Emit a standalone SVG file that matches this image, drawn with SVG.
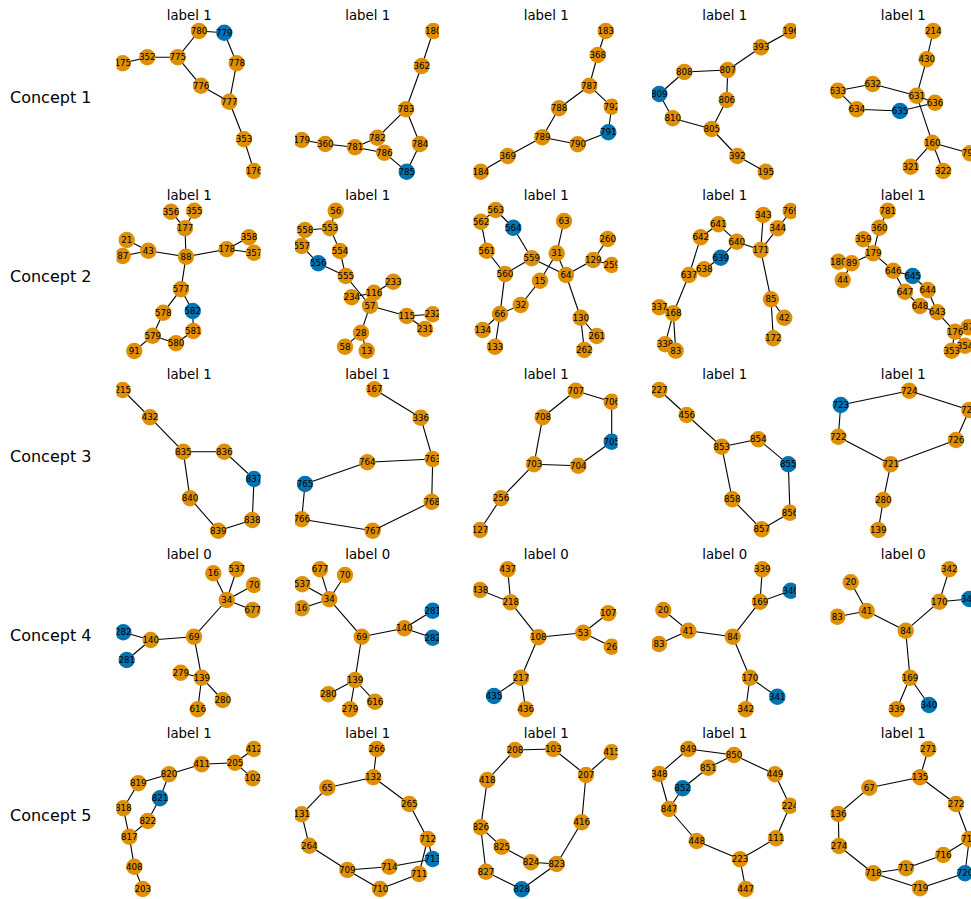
<svg xmlns="http://www.w3.org/2000/svg" width="971" height="899" viewBox="0 0 971 899">
<style>
.o{fill:#DE8F05}
.b{fill:#0173B2}
.nd text{font-family:"DejaVu Sans",sans-serif;font-size:8.7px;fill:#000;text-anchor:middle;dominant-baseline:central}
.ed path{stroke:#000;stroke-width:1.1;fill:none}
.ttl{font-family:"DejaVu Sans",sans-serif;font-size:13.3px;fill:#000;text-anchor:middle}
.row{font-family:"DejaVu Sans",sans-serif;font-size:16px;fill:#000}
</style>
<defs>
<clipPath id="c0"><rect x="116.5" y="0" width="144" height="899"/></clipPath>
<clipPath id="c1"><rect x="295" y="0" width="144" height="899"/></clipPath>
<clipPath id="c2"><rect x="473.5" y="0" width="144" height="899"/></clipPath>
<clipPath id="c3"><rect x="652" y="0" width="144" height="899"/></clipPath>
<clipPath id="c4"><rect x="830.5" y="0" width="144" height="899"/></clipPath>
</defs>
<rect width="971" height="899" fill="#fff"/>
<g id="row-labels">
<text class="row" x="10" y="102.5">Concept 1</text>
<text class="row" x="10" y="282">Concept 2</text>
<text class="row" x="10" y="461.5">Concept 3</text>
<text class="row" x="10" y="641">Concept 4</text>
<text class="row" x="10" y="820.5">Concept 5</text>
</g>
<g id="titles">
<text class="ttl" x="189.2" y="20">label 1</text><text class="ttl" x="367.7" y="20">label 1</text><text class="ttl" x="546.2" y="20">label 1</text><text class="ttl" x="724.7" y="20">label 1</text><text class="ttl" x="903.2" y="20">label 1</text>
<text class="ttl" x="189.2" y="199.5">label 1</text><text class="ttl" x="367.7" y="199.5">label 1</text><text class="ttl" x="546.2" y="199.5">label 1</text><text class="ttl" x="724.7" y="199.5">label 1</text><text class="ttl" x="903.2" y="199.5">label 1</text>
<text class="ttl" x="189.2" y="379">label 1</text><text class="ttl" x="367.7" y="379">label 1</text><text class="ttl" x="546.2" y="379">label 1</text><text class="ttl" x="724.7" y="379">label 1</text><text class="ttl" x="903.2" y="379">label 1</text>
<text class="ttl" x="189.2" y="558.5">label 0</text><text class="ttl" x="367.7" y="558.5">label 0</text><text class="ttl" x="546.2" y="558.5">label 0</text><text class="ttl" x="724.7" y="558.5">label 0</text><text class="ttl" x="903.2" y="558.5">label 0</text>
<text class="ttl" x="189.2" y="738">label 1</text><text class="ttl" x="367.7" y="738">label 1</text><text class="ttl" x="546.2" y="738">label 1</text><text class="ttl" x="724.7" y="738">label 1</text><text class="ttl" x="903.2" y="738">label 1</text>
</g>

<!-- Row 1 -->
<g id="g11" clip-path="url(#c0)">
<g class="ed" id="g11-edges">
<path d="M199 31L224.3 32.7"/><path d="M199 31L177.7 57.3"/><path d="M177.7 57.3L147.3 57.3"/><path d="M147.3 57.3L122.7 63.3"/><path d="M224.3 32.7L236.7 63.3"/><path d="M177.7 57.3L201 85.7"/><path d="M201 85.7L229.3 101.7"/><path d="M236.7 63.3L229.3 101.7"/><path d="M229.3 101.7L244 139.3"/><path d="M244 139.3L254 171"/>
</g>
<g class="nd">
<g id="g11-780"><circle class="o" cx="199" cy="31" r="8.2"/><text x="199" y="31">780</text></g>
<g id="g11-779"><circle class="b" cx="224.3" cy="32.7" r="8.2"/><text x="224.3" y="32.7">779</text></g>
<g id="g11-775"><circle class="o" cx="177.7" cy="57.3" r="8.2"/><text x="177.7" y="57.3">775</text></g>
<g id="g11-352"><circle class="o" cx="147.3" cy="57.3" r="8.2"/><text x="147.3" y="57.3">352</text></g>
<g id="g11-175"><circle class="o" cx="122.7" cy="63.3" r="8.2"/><text x="122.7" y="63.3">175</text></g>
<g id="g11-778"><circle class="o" cx="236.7" cy="63.3" r="8.2"/><text x="236.7" y="63.3">778</text></g>
<g id="g11-776"><circle class="o" cx="201" cy="85.7" r="8.2"/><text x="201" y="85.7">776</text></g>
<g id="g11-777"><circle class="o" cx="229.3" cy="101.7" r="8.2"/><text x="229.3" y="101.7">777</text></g>
<g id="g11-353"><circle class="o" cx="244" cy="139.3" r="8.2"/><text x="244" y="139.3">353</text></g>
<g id="g11-176"><circle class="o" cx="254" cy="171" r="8.2"/><text x="254" y="171">176</text></g>
</g>
</g>

<g id="g12" clip-path="url(#c1)">
<g class="ed" id="g12-edges">
<path d="M433.3 31L421.7 66"/><path d="M421.7 66L406 109.3"/><path d="M406 109.3L377.3 137.7"/><path d="M406 109.3L420 144"/><path d="M377.3 137.7L355 147.3"/><path d="M301.7 140L325.3 144"/><path d="M325.3 144L355 147.3"/><path d="M355 147.3L384.3 152.7"/><path d="M384.3 152.7L406.7 171.7"/><path d="M420 144L406.7 171.7"/>
</g>
<g class="nd">
<g id="g12-180"><circle class="o" cx="433.3" cy="31" r="8.2"/><text x="433.3" y="31">180</text></g>
<g id="g12-362"><circle class="o" cx="421.7" cy="66" r="8.2"/><text x="421.7" y="66">362</text></g>
<g id="g12-783"><circle class="o" cx="406" cy="109.3" r="8.2"/><text x="406" y="109.3">783</text></g>
<g id="g12-782"><circle class="o" cx="377.3" cy="137.7" r="8.2"/><text x="377.3" y="137.7">782</text></g>
<g id="g12-784"><circle class="o" cx="420" cy="144" r="8.2"/><text x="420" y="144">784</text></g>
<g id="g12-179"><circle class="o" cx="301.7" cy="140" r="8.2"/><text x="301.7" y="140">179</text></g>
<g id="g12-360"><circle class="o" cx="325.3" cy="144" r="8.2"/><text x="325.3" y="144">360</text></g>
<g id="g12-781"><circle class="o" cx="355" cy="147.3" r="8.2"/><text x="355" y="147.3">781</text></g>
<g id="g12-786"><circle class="o" cx="384.3" cy="152.7" r="8.2"/><text x="384.3" y="152.7">786</text></g>
<g id="g12-785"><circle class="b" cx="406.7" cy="171.7" r="8.2"/><text x="406.7" y="171.7">785</text></g>
</g>
</g>

<g id="g13" clip-path="url(#c2)">
<g class="ed" id="g13-edges">
<path d="M605.7 31L597.7 55"/><path d="M597.7 55L589.3 85.7"/><path d="M589.3 85.7L559 108.3"/><path d="M589.3 85.7L611.7 106.7"/><path d="M611.7 106.7L608.3 132.3"/><path d="M559 108.3L542.3 137.3"/><path d="M542.3 137.3L577.7 144.3"/><path d="M577.7 144.3L608.3 132.3"/><path d="M542.3 137.3L507.7 156"/><path d="M507.7 156L480.7 171.7"/>
</g>
<g class="nd">
<g id="g13-183"><circle class="o" cx="605.7" cy="31" r="8.2"/><text x="605.7" y="31">183</text></g>
<g id="g13-368"><circle class="o" cx="597.7" cy="55" r="8.2"/><text x="597.7" y="55">368</text></g>
<g id="g13-787"><circle class="o" cx="589.3" cy="85.7" r="8.2"/><text x="589.3" y="85.7">787</text></g>
<g id="g13-788"><circle class="o" cx="559" cy="108.3" r="8.2"/><text x="559" y="108.3">788</text></g>
<g id="g13-792"><circle class="o" cx="611.7" cy="106.7" r="8.2"/><text x="611.7" y="106.7">792</text></g>
<g id="g13-791"><circle class="b" cx="608.3" cy="132.3" r="8.2"/><text x="608.3" y="132.3">791</text></g>
<g id="g13-789"><circle class="o" cx="542.3" cy="137.3" r="8.2"/><text x="542.3" y="137.3">789</text></g>
<g id="g13-790"><circle class="o" cx="577.7" cy="144.3" r="8.2"/><text x="577.7" y="144.3">790</text></g>
<g id="g13-369"><circle class="o" cx="507.7" cy="156" r="8.2"/><text x="507.7" y="156">369</text></g>
<g id="g13-184"><circle class="o" cx="480.7" cy="171.7" r="8.2"/><text x="480.7" y="171.7">184</text></g>
</g>
</g>

<g id="g14" clip-path="url(#c3)">
<g class="ed" id="g14-edges">
<path d="M790.7 31L761 47.3"/><path d="M761 47.3L727.7 70"/><path d="M727.7 70L684.3 72"/><path d="M684.3 72L659.3 94"/><path d="M659.3 94L672.7 118.3"/><path d="M672.7 118.3L711.7 129"/><path d="M727.7 70L726.7 100"/><path d="M726.7 100L711.7 129"/><path d="M711.7 129L737.3 156"/><path d="M737.3 156L765.7 171.7"/>
</g>
<g class="nd">
<g id="g14-196"><circle class="o" cx="790.7" cy="31" r="8.2"/><text x="790.7" y="31">196</text></g>
<g id="g14-393"><circle class="o" cx="761" cy="47.3" r="8.2"/><text x="761" y="47.3">393</text></g>
<g id="g14-807"><circle class="o" cx="727.7" cy="70" r="8.2"/><text x="727.7" y="70">807</text></g>
<g id="g14-808"><circle class="o" cx="684.3" cy="72" r="8.2"/><text x="684.3" y="72">808</text></g>
<g id="g14-809"><circle class="b" cx="659.3" cy="94" r="8.2"/><text x="659.3" y="94">809</text></g>
<g id="g14-806"><circle class="o" cx="726.7" cy="100" r="8.2"/><text x="726.7" y="100">806</text></g>
<g id="g14-810"><circle class="o" cx="672.7" cy="118.3" r="8.2"/><text x="672.7" y="118.3">810</text></g>
<g id="g14-805"><circle class="o" cx="711.7" cy="129" r="8.2"/><text x="711.7" y="129">805</text></g>
<g id="g14-392"><circle class="o" cx="737.3" cy="156" r="8.2"/><text x="737.3" y="156">392</text></g>
<g id="g14-195"><circle class="o" cx="765.7" cy="171.7" r="8.2"/><text x="765.7" y="171.7">195</text></g>
</g>
</g>

<g id="g15" clip-path="url(#c4)">
<g class="ed" id="g15-edges">
<path d="M933.3 31L926.7 59.3"/><path d="M926.7 59.3L916.7 95.7"/><path d="M872.7 84L837.7 90.7"/><path d="M872.7 84L916.7 95.7"/><path d="M837.7 90.7L856.7 109.3"/><path d="M856.7 109.3L900 111"/><path d="M900 111L935 102.7"/><path d="M916.7 95.7L935 102.7"/><path d="M916.7 95.7L932.3 142.7"/><path d="M932.3 142.7L910.7 166.7"/><path d="M932.3 142.7L943.3 171"/><path d="M932.3 142.7L970 153.3"/>
</g>
<g class="nd">
<g id="g15-214"><circle class="o" cx="933.3" cy="31" r="8.2"/><text x="933.3" y="31">214</text></g>
<g id="g15-430"><circle class="o" cx="926.7" cy="59.3" r="8.2"/><text x="926.7" y="59.3">430</text></g>
<g id="g15-632"><circle class="o" cx="872.7" cy="84" r="8.2"/><text x="872.7" y="84">632</text></g>
<g id="g15-633"><circle class="o" cx="837.7" cy="90.7" r="8.2"/><text x="837.7" y="90.7">633</text></g>
<g id="g15-631"><circle class="o" cx="916.7" cy="95.7" r="8.2"/><text x="916.7" y="95.7">631</text></g>
<g id="g15-636"><circle class="o" cx="935" cy="102.7" r="8.2"/><text x="935" y="102.7">636</text></g>
<g id="g15-634"><circle class="o" cx="856.7" cy="109.3" r="8.2"/><text x="856.7" y="109.3">634</text></g>
<g id="g15-635"><circle class="b" cx="900" cy="111" r="8.2"/><text x="900" y="111">635</text></g>
<g id="g15-160"><circle class="o" cx="932.3" cy="142.7" r="8.2"/><text x="932.3" y="142.7">160</text></g>
<g id="g15-321"><circle class="o" cx="910.7" cy="166.7" r="8.2"/><text x="910.7" y="166.7">321</text></g>
<g id="g15-322"><circle class="o" cx="943.3" cy="171" r="8.2"/><text x="943.3" y="171">322</text></g>
<g id="g15-797"><circle class="o" cx="970" cy="153.3" r="8.2"/><text x="970" y="153.3">797</text></g>
</g>
</g>

<!-- Row 2 -->
<g id="g21" clip-path="url(#c0)">
<g class="ed" id="g21-edges">
<path d="M171 211.7L185 228.3"/><path d="M194.3 210.7L185 228.3"/><path d="M185 228.3L186 256.7"/><path d="M126.7 240L148.3 250.7"/><path d="M122.7 256L148.3 250.7"/><path d="M148.3 250.7L186 256.7"/><path d="M186 256.7L226.7 249.3"/><path d="M226.7 249.3L249 237.3"/><path d="M226.7 249.3L254 252.7"/><path d="M186 256.7L181 289.3"/><path d="M181 289.3L163.3 312.7"/><path d="M181 289.3L192.7 311"/><path d="M192.7 311L193.3 331"/><path d="M193.3 331L176 343.3"/><path d="M163.3 312.7L152.7 335.7"/><path d="M152.7 335.7L176 343.3"/><path d="M152.7 335.7L134.3 351"/>
</g>
<g class="nd">
<g id="g21-356"><circle class="o" cx="171" cy="211.7" r="8.2"/><text x="171" y="211.7">356</text></g>
<g id="g21-355"><circle class="o" cx="194.3" cy="210.7" r="8.2"/><text x="194.3" y="210.7">355</text></g>
<g id="g21-177"><circle class="o" cx="185" cy="228.3" r="8.2"/><text x="185" y="228.3">177</text></g>
<g id="g21-21"><circle class="o" cx="126.7" cy="240" r="8.2"/><text x="126.7" y="240">21</text></g>
<g id="g21-358"><circle class="o" cx="249" cy="237.3" r="8.2"/><text x="249" y="237.3">358</text></g>
<g id="g21-43"><circle class="o" cx="148.3" cy="250.7" r="8.2"/><text x="148.3" y="250.7">43</text></g>
<g id="g21-178"><circle class="o" cx="226.7" cy="249.3" r="8.2"/><text x="226.7" y="249.3">178</text></g>
<g id="g21-357"><circle class="o" cx="254" cy="252.7" r="8.2"/><text x="254" y="252.7">357</text></g>
<g id="g21-88"><circle class="o" cx="186" cy="256.7" r="8.2"/><text x="186" y="256.7">88</text></g>
<g id="g21-87"><circle class="o" cx="122.7" cy="256" r="8.2"/><text x="122.7" y="256">87</text></g>
<g id="g21-577"><circle class="o" cx="181" cy="289.3" r="8.2"/><text x="181" y="289.3">577</text></g>
<g id="g21-582"><circle class="b" cx="192.7" cy="311" r="8.2"/><text x="192.7" y="311">582</text></g>
<g id="g21-578"><circle class="o" cx="163.3" cy="312.7" r="8.2"/><text x="163.3" y="312.7">578</text></g>
<g id="g21-581"><circle class="o" cx="193.3" cy="331" r="8.2"/><text x="193.3" y="331">581</text></g>
<g id="g21-579"><circle class="o" cx="152.7" cy="335.7" r="8.2"/><text x="152.7" y="335.7">579</text></g>
<g id="g21-580"><circle class="o" cx="176" cy="343.3" r="8.2"/><text x="176" y="343.3">580</text></g>
<g id="g21-91"><circle class="o" cx="134.3" cy="351" r="8.2"/><text x="134.3" y="351">91</text></g>
</g>
</g>

<g id="g22" clip-path="url(#c1)">
<g class="ed" id="g22-edges">
<path d="M335.7 210.7L330 228.3"/><path d="M305 230L330 228.3"/><path d="M305 230L301.7 246"/><path d="M330 228.3L340 251"/><path d="M301.7 246L318.3 263.3"/><path d="M318.3 263.3L345.7 276"/><path d="M340 251L345.7 276"/><path d="M345.7 276L370 305.7"/><path d="M374 292.7L393.3 281.7"/><path d="M351.7 297.3L374 292.7"/><path d="M374 292.7L370 305.7"/><path d="M370 305.7L406.7 316"/><path d="M406.7 316L432.7 314.3"/><path d="M406.7 316L425 329"/><path d="M370 305.7L361 332.7"/><path d="M361 332.7L345 346.7"/><path d="M361 332.7L366.7 350.7"/>
</g>
<g class="nd">
<g id="g22-56"><circle class="o" cx="335.7" cy="210.7" r="8.2"/><text x="335.7" y="210.7">56</text></g>
<g id="g22-558"><circle class="o" cx="305" cy="230" r="8.2"/><text x="305" y="230">558</text></g>
<g id="g22-553"><circle class="o" cx="330" cy="228.3" r="8.2"/><text x="330" y="228.3">553</text></g>
<g id="g22-557"><circle class="o" cx="301.7" cy="246" r="8.2"/><text x="301.7" y="246">557</text></g>
<g id="g22-554"><circle class="o" cx="340" cy="251" r="8.2"/><text x="340" y="251">554</text></g>
<g id="g22-556"><circle class="b" cx="318.3" cy="263.3" r="8.2"/><text x="318.3" y="263.3">556</text></g>
<g id="g22-555"><circle class="o" cx="345.7" cy="276" r="8.2"/><text x="345.7" y="276">555</text></g>
<g id="g22-233"><circle class="o" cx="393.3" cy="281.7" r="8.2"/><text x="393.3" y="281.7">233</text></g>
<g id="g22-234"><circle class="o" cx="351.7" cy="297.3" r="8.2"/><text x="351.7" y="297.3">234</text></g>
<g id="g22-116"><circle class="o" cx="374" cy="292.7" r="8.2"/><text x="374" y="292.7">116</text></g>
<g id="g22-57"><circle class="o" cx="370" cy="305.7" r="8.2"/><text x="370" y="305.7">57</text></g>
<g id="g22-115"><circle class="o" cx="406.7" cy="316" r="8.2"/><text x="406.7" y="316">115</text></g>
<g id="g22-232"><circle class="o" cx="432.7" cy="314.3" r="8.2"/><text x="432.7" y="314.3">232</text></g>
<g id="g22-231"><circle class="o" cx="425" cy="329" r="8.2"/><text x="425" y="329">231</text></g>
<g id="g22-28"><circle class="o" cx="361" cy="332.7" r="8.2"/><text x="361" y="332.7">28</text></g>
<g id="g22-58"><circle class="o" cx="345" cy="346.7" r="8.2"/><text x="345" y="346.7">58</text></g>
<g id="g22-13"><circle class="o" cx="366.7" cy="350.7" r="8.2"/><text x="366.7" y="350.7">13</text></g>
</g>
</g>

<g id="g23" clip-path="url(#c2)">
<g class="ed" id="g23-edges">
<path d="M495.7 210L481 221.7"/><path d="M495.7 210L513.3 227.7"/><path d="M481 221.7L486.7 250.7"/><path d="M486.7 250.7L505 274"/><path d="M513.3 227.7L531.7 258.3"/><path d="M531.7 258.3L505 274"/><path d="M531.7 258.3L566 275"/><path d="M564 221L556.7 253.3"/><path d="M556.7 253.3L566 275"/><path d="M556.7 253.3L540 280.7"/><path d="M540 280.7L520.7 305"/><path d="M520.7 305L500 314"/><path d="M505 274L500 314"/><path d="M500 314L482.7 330"/><path d="M500 314L495 346.7"/><path d="M566 275L593.3 260"/><path d="M593.3 260L607.7 239"/><path d="M593.3 260L611.7 265"/><path d="M566 275L580.7 317.7"/><path d="M580.7 317.7L596.7 336"/><path d="M580.7 317.7L584.3 350"/>
</g>
<g class="nd">
<g id="g23-563"><circle class="o" cx="495.7" cy="210" r="8.2"/><text x="495.7" y="210">563</text></g>
<g id="g23-562"><circle class="o" cx="481" cy="221.7" r="8.2"/><text x="481" y="221.7">562</text></g>
<g id="g23-564"><circle class="b" cx="513.3" cy="227.7" r="8.2"/><text x="513.3" y="227.7">564</text></g>
<g id="g23-63"><circle class="o" cx="564" cy="221" r="8.2"/><text x="564" y="221">63</text></g>
<g id="g23-260"><circle class="o" cx="607.7" cy="239" r="8.2"/><text x="607.7" y="239">260</text></g>
<g id="g23-561"><circle class="o" cx="486.7" cy="250.7" r="8.2"/><text x="486.7" y="250.7">561</text></g>
<g id="g23-559"><circle class="o" cx="531.7" cy="258.3" r="8.2"/><text x="531.7" y="258.3">559</text></g>
<g id="g23-31"><circle class="o" cx="556.7" cy="253.3" r="8.2"/><text x="556.7" y="253.3">31</text></g>
<g id="g23-129"><circle class="o" cx="593.3" cy="260" r="8.2"/><text x="593.3" y="260">129</text></g>
<g id="g23-259"><circle class="o" cx="611.7" cy="265" r="8.2"/><text x="611.7" y="265">259</text></g>
<g id="g23-560"><circle class="o" cx="505" cy="274" r="8.2"/><text x="505" y="274">560</text></g>
<g id="g23-64"><circle class="o" cx="566" cy="275" r="8.2"/><text x="566" y="275">64</text></g>
<g id="g23-15"><circle class="o" cx="540" cy="280.7" r="8.2"/><text x="540" y="280.7">15</text></g>
<g id="g23-32"><circle class="o" cx="520.7" cy="305" r="8.2"/><text x="520.7" y="305">32</text></g>
<g id="g23-66"><circle class="o" cx="500" cy="314" r="8.2"/><text x="500" y="314">66</text></g>
<g id="g23-130"><circle class="o" cx="580.7" cy="317.7" r="8.2"/><text x="580.7" y="317.7">130</text></g>
<g id="g23-134"><circle class="o" cx="482.7" cy="330" r="8.2"/><text x="482.7" y="330">134</text></g>
<g id="g23-261"><circle class="o" cx="596.7" cy="336" r="8.2"/><text x="596.7" y="336">261</text></g>
<g id="g23-133"><circle class="o" cx="495" cy="346.7" r="8.2"/><text x="495" y="346.7">133</text></g>
<g id="g23-262"><circle class="o" cx="584.3" cy="350" r="8.2"/><text x="584.3" y="350">262</text></g>
</g>
</g>

<g id="g24" clip-path="url(#c3)">
<g class="ed" id="g24-edges">
<path d="M718.3 224.3L700.7 237.3"/><path d="M718.3 224.3L736.7 241.7"/><path d="M736.7 241.7L720.7 257.7"/><path d="M720.7 257.7L704.3 269.3"/><path d="M736.7 241.7L760.7 250"/><path d="M760.7 250L763.3 215"/><path d="M760.7 250L777.7 228.3"/><path d="M777.7 228.3L790.7 211"/><path d="M700.7 237.3L689 275"/><path d="M689 275L673.3 313.3"/><path d="M673.3 313.3L659.3 307.3"/><path d="M673.3 313.3L665 344.3"/><path d="M673.3 313.3L675.7 350.7"/><path d="M760.7 250L771 299.3"/><path d="M771 299.3L784.3 317.7"/><path d="M771 299.3L773.3 338.3"/>
</g>
<g class="nd">
<g id="g24-641"><circle class="o" cx="718.3" cy="224.3" r="8.2"/><text x="718.3" y="224.3">641</text></g>
<g id="g24-343"><circle class="o" cx="763.3" cy="215" r="8.2"/><text x="763.3" y="215">343</text></g>
<g id="g24-769"><circle class="o" cx="790.7" cy="211" r="8.2"/><text x="790.7" y="211">769</text></g>
<g id="g24-642"><circle class="o" cx="700.7" cy="237.3" r="8.2"/><text x="700.7" y="237.3">642</text></g>
<g id="g24-344"><circle class="o" cx="777.7" cy="228.3" r="8.2"/><text x="777.7" y="228.3">344</text></g>
<g id="g24-640"><circle class="o" cx="736.7" cy="241.7" r="8.2"/><text x="736.7" y="241.7">640</text></g>
<g id="g24-171"><circle class="o" cx="760.7" cy="250" r="8.2"/><text x="760.7" y="250">171</text></g>
<g id="g24-639"><circle class="b" cx="720.7" cy="257.7" r="8.2"/><text x="720.7" y="257.7">639</text></g>
<g id="g24-637"><circle class="o" cx="689" cy="275" r="8.2"/><text x="689" y="275">637</text></g>
<g id="g24-638"><circle class="o" cx="704.3" cy="269.3" r="8.2"/><text x="704.3" y="269.3">638</text></g>
<g id="g24-85"><circle class="o" cx="771" cy="299.3" r="8.2"/><text x="771" y="299.3">85</text></g>
<g id="g24-42"><circle class="o" cx="784.3" cy="317.7" r="8.2"/><text x="784.3" y="317.7">42</text></g>
<g id="g24-337"><circle class="o" cx="659.3" cy="307.3" r="8.2"/><text x="659.3" y="307.3">337</text></g>
<g id="g24-168"><circle class="o" cx="673.3" cy="313.3" r="8.2"/><text x="673.3" y="313.3">168</text></g>
<g id="g24-172"><circle class="o" cx="773.3" cy="338.3" r="8.2"/><text x="773.3" y="338.3">172</text></g>
<g id="g24-338"><circle class="o" cx="665" cy="344.3" r="8.2"/><text x="665" y="344.3">338</text></g>
<g id="g24-83"><circle class="o" cx="675.7" cy="350.7" r="8.2"/><text x="675.7" y="350.7">83</text></g>
</g>
</g>

<g id="g25" clip-path="url(#c4)">
<g class="ed" id="g25-edges">
<path d="M887.7 210.7L879.3 227.7"/><path d="M879.3 227.7L873.3 253.3"/><path d="M863.3 239.3L873.3 253.3"/><path d="M873.3 253.3L851.7 263.3"/><path d="M838.3 261.7L851.7 263.3"/><path d="M851.7 263.3L842.7 280"/><path d="M873.3 253.3L893.3 270.7"/><path d="M893.3 270.7L912.7 276"/><path d="M893.3 270.7L905 291.7"/><path d="M912.7 276L927.7 290"/><path d="M905 291.7L920 306"/><path d="M927.7 290L937.3 312.3"/><path d="M920 306L937.3 312.3"/><path d="M937.3 312.3L955 331.7"/><path d="M955 331.7L968.3 327.3"/><path d="M955 331.7L951.7 350.7"/><path d="M955 331.7L965 345.7"/>
</g>
<g class="nd">
<g id="g25-781"><circle class="o" cx="887.7" cy="210.7" r="8.2"/><text x="887.7" y="210.7">781</text></g>
<g id="g25-360"><circle class="o" cx="879.3" cy="227.7" r="8.2"/><text x="879.3" y="227.7">360</text></g>
<g id="g25-359"><circle class="o" cx="863.3" cy="239.3" r="8.2"/><text x="863.3" y="239.3">359</text></g>
<g id="g25-179"><circle class="o" cx="873.3" cy="253.3" r="8.2"/><text x="873.3" y="253.3">179</text></g>
<g id="g25-180"><circle class="o" cx="838.3" cy="261.7" r="8.2"/><text x="838.3" y="261.7">180</text></g>
<g id="g25-89"><circle class="o" cx="851.7" cy="263.3" r="8.2"/><text x="851.7" y="263.3">89</text></g>
<g id="g25-646"><circle class="o" cx="893.3" cy="270.7" r="8.2"/><text x="893.3" y="270.7">646</text></g>
<g id="g25-645"><circle class="b" cx="912.7" cy="276" r="8.2"/><text x="912.7" y="276">645</text></g>
<g id="g25-44"><circle class="o" cx="842.7" cy="280" r="8.2"/><text x="842.7" y="280">44</text></g>
<g id="g25-644"><circle class="o" cx="927.7" cy="290" r="8.2"/><text x="927.7" y="290">644</text></g>
<g id="g25-647"><circle class="o" cx="905" cy="291.7" r="8.2"/><text x="905" y="291.7">647</text></g>
<g id="g25-648"><circle class="o" cx="920" cy="306" r="8.2"/><text x="920" y="306">648</text></g>
<g id="g25-643"><circle class="o" cx="937.3" cy="312.3" r="8.2"/><text x="937.3" y="312.3">643</text></g>
<g id="g25-87"><circle class="o" cx="968.3" cy="327.3" r="8.2"/><text x="968.3" y="327.3">87</text></g>
<g id="g25-176"><circle class="o" cx="955" cy="331.7" r="8.2"/><text x="955" y="331.7">176</text></g>
<g id="g25-354"><circle class="o" cx="965" cy="345.7" r="8.2"/><text x="965" y="345.7">354</text></g>
<g id="g25-353"><circle class="o" cx="951.7" cy="350.7" r="8.2"/><text x="951.7" y="350.7">353</text></g>
</g>
</g>

<!-- Row 3 -->
<g id="g31" clip-path="url(#c0)">
<g class="ed" id="g31-edges">
<path d="M122.7 390L150 417.3"/><path d="M150 417.3L183.3 451.7"/><path d="M183.3 451.7L224.3 451.7"/><path d="M224.3 451.7L254 479"/><path d="M254 479L252.3 520"/><path d="M252.3 520L218.3 530.7"/><path d="M218.3 530.7L190 498.3"/><path d="M190 498.3L183.3 451.7"/>
</g>
<g class="nd">
<g id="g31-215"><circle class="o" cx="122.7" cy="390" r="8.2"/><text x="122.7" y="390">215</text></g>
<g id="g31-432"><circle class="o" cx="150" cy="417.3" r="8.2"/><text x="150" y="417.3">432</text></g>
<g id="g31-835"><circle class="o" cx="183.3" cy="451.7" r="8.2"/><text x="183.3" y="451.7">835</text></g>
<g id="g31-836"><circle class="o" cx="224.3" cy="451.7" r="8.2"/><text x="224.3" y="451.7">836</text></g>
<g id="g31-837"><circle class="b" cx="254" cy="479" r="8.2"/><text x="254" y="479">837</text></g>
<g id="g31-840"><circle class="o" cx="190" cy="498.3" r="8.2"/><text x="190" y="498.3">840</text></g>
<g id="g31-838"><circle class="o" cx="252.3" cy="520" r="8.2"/><text x="252.3" y="520">838</text></g>
<g id="g31-839"><circle class="o" cx="218.3" cy="530.7" r="8.2"/><text x="218.3" y="530.7">839</text></g>
</g>
</g>

<g id="g32" clip-path="url(#c1)">
<g class="ed" id="g32-edges">
<path d="M374.3 389.3L420.7 417.7"/><path d="M420.7 417.7L432.7 459"/><path d="M432.7 459L367.3 462.3"/><path d="M367.3 462.3L305 484"/><path d="M305 484L301.7 519.3"/><path d="M301.7 519.3L372.7 530.7"/><path d="M372.7 530.7L431.7 501.7"/><path d="M431.7 501.7L432.7 459"/>
</g>
<g class="nd">
<g id="g32-167"><circle class="o" cx="374.3" cy="389.3" r="8.2"/><text x="374.3" y="389.3">167</text></g>
<g id="g32-336"><circle class="o" cx="420.7" cy="417.7" r="8.2"/><text x="420.7" y="417.7">336</text></g>
<g id="g32-763"><circle class="o" cx="432.7" cy="459" r="8.2"/><text x="432.7" y="459">763</text></g>
<g id="g32-764"><circle class="o" cx="367.3" cy="462.3" r="8.2"/><text x="367.3" y="462.3">764</text></g>
<g id="g32-765"><circle class="b" cx="305" cy="484" r="8.2"/><text x="305" y="484">765</text></g>
<g id="g32-768"><circle class="o" cx="431.7" cy="501.7" r="8.2"/><text x="431.7" y="501.7">768</text></g>
<g id="g32-766"><circle class="o" cx="301.7" cy="519.3" r="8.2"/><text x="301.7" y="519.3">766</text></g>
<g id="g32-767"><circle class="o" cx="372.7" cy="530.7" r="8.2"/><text x="372.7" y="530.7">767</text></g>
</g>
</g>

<g id="g33" clip-path="url(#c2)">
<g class="ed" id="g33-edges">
<path d="M575.7 390.7L611.7 401.7"/><path d="M575.7 390.7L542.7 417.3"/><path d="M611.7 401.7L611.7 441.7"/><path d="M542.7 417.3L534 464.3"/><path d="M534 464.3L578.3 465.7"/><path d="M578.3 465.7L611.7 441.7"/><path d="M534 464.3L501 498.3"/><path d="M501 498.3L480 530"/>
</g>
<g class="nd">
<g id="g33-707"><circle class="o" cx="575.7" cy="390.7" r="8.2"/><text x="575.7" y="390.7">707</text></g>
<g id="g33-706"><circle class="o" cx="611.7" cy="401.7" r="8.2"/><text x="611.7" y="401.7">706</text></g>
<g id="g33-708"><circle class="o" cx="542.7" cy="417.3" r="8.2"/><text x="542.7" y="417.3">708</text></g>
<g id="g33-705"><circle class="b" cx="611.7" cy="441.7" r="8.2"/><text x="611.7" y="441.7">705</text></g>
<g id="g33-703"><circle class="o" cx="534" cy="464.3" r="8.2"/><text x="534" y="464.3">703</text></g>
<g id="g33-704"><circle class="o" cx="578.3" cy="465.7" r="8.2"/><text x="578.3" y="465.7">704</text></g>
<g id="g33-256"><circle class="o" cx="501" cy="498.3" r="8.2"/><text x="501" y="498.3">256</text></g>
<g id="g33-127"><circle class="o" cx="480" cy="530" r="8.2"/><text x="480" y="530">127</text></g>
</g>
</g>

<g id="g34" clip-path="url(#c3)">
<g class="ed" id="g34-edges">
<path d="M659.3 390L686.7 415"/><path d="M686.7 415L721.7 446.7"/><path d="M721.7 446.7L758.3 439.3"/><path d="M758.3 439.3L788.3 464.3"/><path d="M788.3 464.3L790 512.7"/><path d="M790 512.7L761.7 529.3"/><path d="M761.7 529.3L732.3 499.3"/><path d="M732.3 499.3L721.7 446.7"/>
</g>
<g class="nd">
<g id="g34-227"><circle class="o" cx="659.3" cy="390" r="8.2"/><text x="659.3" y="390">227</text></g>
<g id="g34-456"><circle class="o" cx="686.7" cy="415" r="8.2"/><text x="686.7" y="415">456</text></g>
<g id="g34-853"><circle class="o" cx="721.7" cy="446.7" r="8.2"/><text x="721.7" y="446.7">853</text></g>
<g id="g34-854"><circle class="o" cx="758.3" cy="439.3" r="8.2"/><text x="758.3" y="439.3">854</text></g>
<g id="g34-855"><circle class="b" cx="788.3" cy="464.3" r="8.2"/><text x="788.3" y="464.3">855</text></g>
<g id="g34-858"><circle class="o" cx="732.3" cy="499.3" r="8.2"/><text x="732.3" y="499.3">858</text></g>
<g id="g34-856"><circle class="o" cx="790" cy="512.7" r="8.2"/><text x="790" y="512.7">856</text></g>
<g id="g34-857"><circle class="o" cx="761.7" cy="529.3" r="8.2"/><text x="761.7" y="529.3">857</text></g>
</g>
</g>

<g id="g35" clip-path="url(#c4)">
<g class="ed" id="g35-edges">
<path d="M909.3 390.7L840.7 405"/><path d="M909.3 390.7L969.3 410"/><path d="M840.7 405L838.3 436.7"/><path d="M969.3 410L956 440"/><path d="M838.3 436.7L890.7 464.3"/><path d="M956 440L890.7 464.3"/><path d="M890.7 464.3L883.3 500"/><path d="M883.3 500L878.3 530"/>
</g>
<g class="nd">
<g id="g35-724"><circle class="o" cx="909.3" cy="390.7" r="8.2"/><text x="909.3" y="390.7">724</text></g>
<g id="g35-723"><circle class="b" cx="840.7" cy="405" r="8.2"/><text x="840.7" y="405">723</text></g>
<g id="g35-725"><circle class="o" cx="969.3" cy="410" r="8.2"/><text x="969.3" y="410">725</text></g>
<g id="g35-722"><circle class="o" cx="838.3" cy="436.7" r="8.2"/><text x="838.3" y="436.7">722</text></g>
<g id="g35-726"><circle class="o" cx="956" cy="440" r="8.2"/><text x="956" y="440">726</text></g>
<g id="g35-721"><circle class="o" cx="890.7" cy="464.3" r="8.2"/><text x="890.7" y="464.3">721</text></g>
<g id="g35-280"><circle class="o" cx="883.3" cy="500" r="8.2"/><text x="883.3" y="500">280</text></g>
<g id="g35-139"><circle class="o" cx="878.3" cy="530" r="8.2"/><text x="878.3" y="530">139</text></g>
</g>
</g>

<!-- Row 4 -->
<g id="g41" clip-path="url(#c0)">
<g class="ed" id="g41-edges">
<path d="M226.7 600L213.3 573.3"/><path d="M226.7 600L236.7 569.3"/><path d="M226.7 600L254 585"/><path d="M226.7 600L252.7 610"/><path d="M226.7 600L194 636.7"/><path d="M194 636.7L150.7 640"/><path d="M150.7 640L123.3 632.3"/><path d="M150.7 640L126.7 660"/><path d="M194 636.7L201.7 677.7"/><path d="M201.7 677.7L180.7 672.7"/><path d="M201.7 677.7L222.7 700"/><path d="M201.7 677.7L197.7 709.3"/>
</g>
<g class="nd">
<g id="g41-16"><circle class="o" cx="213.3" cy="573.3" r="8.2"/><text x="213.3" y="573.3">16</text></g>
<g id="g41-537"><circle class="o" cx="236.7" cy="569.3" r="8.2"/><text x="236.7" y="569.3">537</text></g>
<g id="g41-70"><circle class="o" cx="254" cy="585" r="8.2"/><text x="254" y="585">70</text></g>
<g id="g41-34"><circle class="o" cx="226.7" cy="600" r="8.2"/><text x="226.7" y="600">34</text></g>
<g id="g41-677"><circle class="o" cx="252.7" cy="610" r="8.2"/><text x="252.7" y="610">677</text></g>
<g id="g41-282"><circle class="b" cx="123.3" cy="632.3" r="8.2"/><text x="123.3" y="632.3">282</text></g>
<g id="g41-140"><circle class="o" cx="150.7" cy="640" r="8.2"/><text x="150.7" y="640">140</text></g>
<g id="g41-69"><circle class="o" cx="194" cy="636.7" r="8.2"/><text x="194" y="636.7">69</text></g>
<g id="g41-281"><circle class="b" cx="126.7" cy="660" r="8.2"/><text x="126.7" y="660">281</text></g>
<g id="g41-279"><circle class="o" cx="180.7" cy="672.7" r="8.2"/><text x="180.7" y="672.7">279</text></g>
<g id="g41-139"><circle class="o" cx="201.7" cy="677.7" r="8.2"/><text x="201.7" y="677.7">139</text></g>
<g id="g41-280"><circle class="o" cx="222.7" cy="700" r="8.2"/><text x="222.7" y="700">280</text></g>
<g id="g41-616"><circle class="o" cx="197.7" cy="709.3" r="8.2"/><text x="197.7" y="709.3">616</text></g>
</g>
</g>

<g id="g42" clip-path="url(#c1)">
<g class="ed" id="g42-edges">
<path d="M329.3 599.3L320 569.3"/><path d="M329.3 599.3L345 575"/><path d="M329.3 599.3L302.3 584.3"/><path d="M329.3 599.3L301.7 608.3"/><path d="M329.3 599.3L361.7 636.7"/><path d="M361.7 636.7L404.3 628.3"/><path d="M404.3 628.3L432.7 610.7"/><path d="M404.3 628.3L432.7 637.7"/><path d="M361.7 636.7L355 680"/><path d="M355 680L328.3 694.3"/><path d="M355 680L350 709.3"/><path d="M355 680L375 701.7"/>
</g>
<g class="nd">
<g id="g42-677"><circle class="o" cx="320" cy="569.3" r="8.2"/><text x="320" y="569.3">677</text></g>
<g id="g42-70"><circle class="o" cx="345" cy="575" r="8.2"/><text x="345" y="575">70</text></g>
<g id="g42-537"><circle class="o" cx="302.3" cy="584.3" r="8.2"/><text x="302.3" y="584.3">537</text></g>
<g id="g42-34"><circle class="o" cx="329.3" cy="599.3" r="8.2"/><text x="329.3" y="599.3">34</text></g>
<g id="g42-16"><circle class="o" cx="301.7" cy="608.3" r="8.2"/><text x="301.7" y="608.3">16</text></g>
<g id="g42-281"><circle class="b" cx="432.7" cy="610.7" r="8.2"/><text x="432.7" y="610.7">281</text></g>
<g id="g42-140"><circle class="o" cx="404.3" cy="628.3" r="8.2"/><text x="404.3" y="628.3">140</text></g>
<g id="g42-282"><circle class="b" cx="432.7" cy="637.7" r="8.2"/><text x="432.7" y="637.7">282</text></g>
<g id="g42-69"><circle class="o" cx="361.7" cy="636.7" r="8.2"/><text x="361.7" y="636.7">69</text></g>
<g id="g42-139"><circle class="o" cx="355" cy="680" r="8.2"/><text x="355" y="680">139</text></g>
<g id="g42-280"><circle class="o" cx="328.3" cy="694.3" r="8.2"/><text x="328.3" y="694.3">280</text></g>
<g id="g42-616"><circle class="o" cx="375" cy="701.7" r="8.2"/><text x="375" y="701.7">616</text></g>
<g id="g42-279"><circle class="o" cx="350" cy="709.3" r="8.2"/><text x="350" y="709.3">279</text></g>
</g>
</g>

<g id="g43" clip-path="url(#c2)">
<g class="ed" id="g43-edges">
<path d="M507.7 569.3L510.7 602.3"/><path d="M480 590L510.7 602.3"/><path d="M510.7 602.3L538.3 637.3"/><path d="M538.3 637.3L583.3 632.7"/><path d="M583.3 632.7L608.3 613.3"/><path d="M583.3 632.7L611.7 646.7"/><path d="M538.3 637.3L521 677.7"/><path d="M521 677.7L494 696"/><path d="M521 677.7L525.7 709.3"/>
</g>
<g class="nd">
<g id="g43-437"><circle class="o" cx="507.7" cy="569.3" r="8.2"/><text x="507.7" y="569.3">437</text></g>
<g id="g43-438"><circle class="o" cx="480" cy="590" r="8.2"/><text x="480" y="590">438</text></g>
<g id="g43-218"><circle class="o" cx="510.7" cy="602.3" r="8.2"/><text x="510.7" y="602.3">218</text></g>
<g id="g43-107"><circle class="o" cx="608.3" cy="613.3" r="8.2"/><text x="608.3" y="613.3">107</text></g>
<g id="g43-108"><circle class="o" cx="538.3" cy="637.3" r="8.2"/><text x="538.3" y="637.3">108</text></g>
<g id="g43-53"><circle class="o" cx="583.3" cy="632.7" r="8.2"/><text x="583.3" y="632.7">53</text></g>
<g id="g43-26"><circle class="o" cx="611.7" cy="646.7" r="8.2"/><text x="611.7" y="646.7">26</text></g>
<g id="g43-217"><circle class="o" cx="521" cy="677.7" r="8.2"/><text x="521" y="677.7">217</text></g>
<g id="g43-435"><circle class="b" cx="494" cy="696" r="8.2"/><text x="494" y="696">435</text></g>
<g id="g43-436"><circle class="o" cx="525.7" cy="709.3" r="8.2"/><text x="525.7" y="709.3">436</text></g>
</g>
</g>

<g id="g44" clip-path="url(#c3)">
<g class="ed" id="g44-edges">
<path d="M762.3 569.3L760 601.7"/><path d="M760 601.7L790.7 590.7"/><path d="M760 601.7L732.7 636.7"/><path d="M663.3 610L688.3 630.7"/><path d="M659 644L688.3 630.7"/><path d="M688.3 630.7L732.7 636.7"/><path d="M732.7 636.7L750 677.7"/><path d="M750 677.7L777.3 696.7"/><path d="M750 677.7L745.7 709.3"/>
</g>
<g class="nd">
<g id="g44-339"><circle class="o" cx="762.3" cy="569.3" r="8.2"/><text x="762.3" y="569.3">339</text></g>
<g id="g44-340"><circle class="b" cx="790.7" cy="590.7" r="8.2"/><text x="790.7" y="590.7">340</text></g>
<g id="g44-169"><circle class="o" cx="760" cy="601.7" r="8.2"/><text x="760" y="601.7">169</text></g>
<g id="g44-20"><circle class="o" cx="663.3" cy="610" r="8.2"/><text x="663.3" y="610">20</text></g>
<g id="g44-41"><circle class="o" cx="688.3" cy="630.7" r="8.2"/><text x="688.3" y="630.7">41</text></g>
<g id="g44-84"><circle class="o" cx="732.7" cy="636.7" r="8.2"/><text x="732.7" y="636.7">84</text></g>
<g id="g44-83"><circle class="o" cx="659" cy="644" r="8.2"/><text x="659" y="644">83</text></g>
<g id="g44-170"><circle class="o" cx="750" cy="677.7" r="8.2"/><text x="750" y="677.7">170</text></g>
<g id="g44-341"><circle class="b" cx="777.3" cy="696.7" r="8.2"/><text x="777.3" y="696.7">341</text></g>
<g id="g44-342"><circle class="o" cx="745.7" cy="709.3" r="8.2"/><text x="745.7" y="709.3">342</text></g>
</g>
</g>

<g id="g45" clip-path="url(#c4)">
<g class="ed" id="g45-edges">
<path d="M949.3 569.3L939.3 601.7"/><path d="M939.3 601.7L969.3 599"/><path d="M850.7 582.3L866.7 611"/><path d="M837.3 616.7L866.7 611"/><path d="M866.7 611L905.7 630.7"/><path d="M905.7 630.7L939.3 601.7"/><path d="M905.7 630.7L910 677.7"/><path d="M910 677.7L896.7 709.3"/><path d="M910 677.7L929 705"/>
</g>
<g class="nd">
<g id="g45-342"><circle class="o" cx="949.3" cy="569.3" r="8.2"/><text x="949.3" y="569.3">342</text></g>
<g id="g45-20"><circle class="o" cx="850.7" cy="582.3" r="8.2"/><text x="850.7" y="582.3">20</text></g>
<g id="g45-170"><circle class="o" cx="939.3" cy="601.7" r="8.2"/><text x="939.3" y="601.7">170</text></g>
<g id="g45-341"><circle class="b" cx="969.3" cy="599" r="8.2"/><text x="969.3" y="599">341</text></g>
<g id="g45-41"><circle class="o" cx="866.7" cy="611" r="8.2"/><text x="866.7" y="611">41</text></g>
<g id="g45-83"><circle class="o" cx="837.3" cy="616.7" r="8.2"/><text x="837.3" y="616.7">83</text></g>
<g id="g45-84"><circle class="o" cx="905.7" cy="630.7" r="8.2"/><text x="905.7" y="630.7">84</text></g>
<g id="g45-169"><circle class="o" cx="910" cy="677.7" r="8.2"/><text x="910" y="677.7">169</text></g>
<g id="g45-339"><circle class="o" cx="896.7" cy="709.3" r="8.2"/><text x="896.7" y="709.3">339</text></g>
<g id="g45-340"><circle class="b" cx="929" cy="705" r="8.2"/><text x="929" y="705">340</text></g>
</g>
</g>

<!-- Row 5 -->
<g id="g51" clip-path="url(#c0)">
<g class="ed" id="g51-edges">
<path d="M254 749L235 762.7"/><path d="M235 762.7L252.7 778.3"/><path d="M235 762.7L201.7 764.3"/><path d="M201.7 764.3L169 774.3"/><path d="M169 774.3L138.3 783.3"/><path d="M169 774.3L160 798.3"/><path d="M138.3 783.3L123.3 808.3"/><path d="M160 798.3L147.7 821"/><path d="M147.7 821L129.3 836.7"/><path d="M123.3 808.3L129.3 836.7"/><path d="M129.3 836.7L134.3 866.7"/><path d="M134.3 866.7L142.7 889"/>
</g>
<g class="nd">
<g id="g51-412"><circle class="o" cx="254" cy="749" r="8.2"/><text x="254" y="749">412</text></g>
<g id="g51-205"><circle class="o" cx="235" cy="762.7" r="8.2"/><text x="235" y="762.7">205</text></g>
<g id="g51-411"><circle class="o" cx="201.7" cy="764.3" r="8.2"/><text x="201.7" y="764.3">411</text></g>
<g id="g51-102"><circle class="o" cx="252.7" cy="778.3" r="8.2"/><text x="252.7" y="778.3">102</text></g>
<g id="g51-820"><circle class="o" cx="169" cy="774.3" r="8.2"/><text x="169" y="774.3">820</text></g>
<g id="g51-819"><circle class="o" cx="138.3" cy="783.3" r="8.2"/><text x="138.3" y="783.3">819</text></g>
<g id="g51-821"><circle class="b" cx="160" cy="798.3" r="8.2"/><text x="160" y="798.3">821</text></g>
<g id="g51-818"><circle class="o" cx="123.3" cy="808.3" r="8.2"/><text x="123.3" y="808.3">818</text></g>
<g id="g51-822"><circle class="o" cx="147.7" cy="821" r="8.2"/><text x="147.7" y="821">822</text></g>
<g id="g51-817"><circle class="o" cx="129.3" cy="836.7" r="8.2"/><text x="129.3" y="836.7">817</text></g>
<g id="g51-408"><circle class="o" cx="134.3" cy="866.7" r="8.2"/><text x="134.3" y="866.7">408</text></g>
<g id="g51-203"><circle class="o" cx="142.7" cy="889" r="8.2"/><text x="142.7" y="889">203</text></g>
</g>
</g>

<g id="g52" clip-path="url(#c1)">
<g class="ed" id="g52-edges">
<path d="M376.7 749L373.3 777.3"/><path d="M373.3 777.3L327.3 787.7"/><path d="M373.3 777.3L409.3 804"/><path d="M327.3 787.7L301.7 814.3"/><path d="M409.3 804L427.7 839"/><path d="M301.7 814.3L309.3 845.7"/><path d="M309.3 845.7L347.3 870"/><path d="M347.3 870L389.3 866.7"/><path d="M389.3 866.7L432.7 859"/><path d="M427.7 839L432.7 859"/><path d="M427.7 839L419 874"/><path d="M347.3 870L380 889"/><path d="M380 889L419 874"/>
</g>
<g class="nd">
<g id="g52-266"><circle class="o" cx="376.7" cy="749" r="8.2"/><text x="376.7" y="749">266</text></g>
<g id="g52-132"><circle class="o" cx="373.3" cy="777.3" r="8.2"/><text x="373.3" y="777.3">132</text></g>
<g id="g52-65"><circle class="o" cx="327.3" cy="787.7" r="8.2"/><text x="327.3" y="787.7">65</text></g>
<g id="g52-265"><circle class="o" cx="409.3" cy="804" r="8.2"/><text x="409.3" y="804">265</text></g>
<g id="g52-131"><circle class="o" cx="301.7" cy="814.3" r="8.2"/><text x="301.7" y="814.3">131</text></g>
<g id="g52-712"><circle class="o" cx="427.7" cy="839" r="8.2"/><text x="427.7" y="839">712</text></g>
<g id="g52-264"><circle class="o" cx="309.3" cy="845.7" r="8.2"/><text x="309.3" y="845.7">264</text></g>
<g id="g52-713"><circle class="b" cx="432.7" cy="859" r="8.2"/><text x="432.7" y="859">713</text></g>
<g id="g52-714"><circle class="o" cx="389.3" cy="866.7" r="8.2"/><text x="389.3" y="866.7">714</text></g>
<g id="g52-709"><circle class="o" cx="347.3" cy="870" r="8.2"/><text x="347.3" y="870">709</text></g>
<g id="g52-711"><circle class="o" cx="419" cy="874" r="8.2"/><text x="419" y="874">711</text></g>
<g id="g52-710"><circle class="o" cx="380" cy="889" r="8.2"/><text x="380" y="889">710</text></g>
</g>
</g>

<g id="g53" clip-path="url(#c2)">
<g class="ed" id="g53-edges">
<path d="M515 750L553.3 749"/><path d="M553.3 749L586 775"/><path d="M586 775L611.7 752.3"/><path d="M515 750L487.3 780"/><path d="M487.3 780L480.7 827.3"/><path d="M586 775L581.7 822.3"/><path d="M581.7 822.3L556.7 864"/><path d="M480.7 827.3L501.7 846.7"/><path d="M501.7 846.7L531 862.3"/><path d="M531 862.3L556.7 864"/><path d="M480.7 827.3L486 871.7"/><path d="M486 871.7L521.7 889.3"/><path d="M521.7 889.3L556.7 864"/>
</g>
<g class="nd">
<g id="g53-208"><circle class="o" cx="515" cy="750" r="8.2"/><text x="515" y="750">208</text></g>
<g id="g53-103"><circle class="o" cx="553.3" cy="749" r="8.2"/><text x="553.3" y="749">103</text></g>
<g id="g53-415"><circle class="o" cx="611.7" cy="752.3" r="8.2"/><text x="611.7" y="752.3">415</text></g>
<g id="g53-207"><circle class="o" cx="586" cy="775" r="8.2"/><text x="586" y="775">207</text></g>
<g id="g53-418"><circle class="o" cx="487.3" cy="780" r="8.2"/><text x="487.3" y="780">418</text></g>
<g id="g53-416"><circle class="o" cx="581.7" cy="822.3" r="8.2"/><text x="581.7" y="822.3">416</text></g>
<g id="g53-826"><circle class="o" cx="480.7" cy="827.3" r="8.2"/><text x="480.7" y="827.3">826</text></g>
<g id="g53-825"><circle class="o" cx="501.7" cy="846.7" r="8.2"/><text x="501.7" y="846.7">825</text></g>
<g id="g53-824"><circle class="o" cx="531" cy="862.3" r="8.2"/><text x="531" y="862.3">824</text></g>
<g id="g53-823"><circle class="o" cx="556.7" cy="864" r="8.2"/><text x="556.7" y="864">823</text></g>
<g id="g53-827"><circle class="o" cx="486" cy="871.7" r="8.2"/><text x="486" y="871.7">827</text></g>
<g id="g53-828"><circle class="b" cx="521.7" cy="889.3" r="8.2"/><text x="521.7" y="889.3">828</text></g>
</g>
</g>

<g id="g54" clip-path="url(#c3)">
<g class="ed" id="g54-edges">
<path d="M688.3 749L734 755"/><path d="M688.3 749L659.3 774"/><path d="M734 755L708.3 767.7"/><path d="M734 755L775 774.3"/><path d="M708.3 767.7L682.7 788.3"/><path d="M682.7 788.3L669 809"/><path d="M659.3 774L669 809"/><path d="M775 774.3L790 805.7"/><path d="M790 805.7L776 838.3"/><path d="M776 838.3L740 859.3"/><path d="M669 809L696.7 841"/><path d="M696.7 841L740 859.3"/><path d="M740 859.3L745.7 889"/>
</g>
<g class="nd">
<g id="g54-849"><circle class="o" cx="688.3" cy="749" r="8.2"/><text x="688.3" y="749">849</text></g>
<g id="g54-850"><circle class="o" cx="734" cy="755" r="8.2"/><text x="734" y="755">850</text></g>
<g id="g54-851"><circle class="o" cx="708.3" cy="767.7" r="8.2"/><text x="708.3" y="767.7">851</text></g>
<g id="g54-348"><circle class="o" cx="659.3" cy="774" r="8.2"/><text x="659.3" y="774">348</text></g>
<g id="g54-449"><circle class="o" cx="775" cy="774.3" r="8.2"/><text x="775" y="774.3">449</text></g>
<g id="g54-852"><circle class="b" cx="682.7" cy="788.3" r="8.2"/><text x="682.7" y="788.3">852</text></g>
<g id="g54-224"><circle class="o" cx="790" cy="805.7" r="8.2"/><text x="790" y="805.7">224</text></g>
<g id="g54-847"><circle class="o" cx="669" cy="809" r="8.2"/><text x="669" y="809">847</text></g>
<g id="g54-111"><circle class="o" cx="776" cy="838.3" r="8.2"/><text x="776" y="838.3">111</text></g>
<g id="g54-448"><circle class="o" cx="696.7" cy="841" r="8.2"/><text x="696.7" y="841">448</text></g>
<g id="g54-223"><circle class="o" cx="740" cy="859.3" r="8.2"/><text x="740" y="859.3">223</text></g>
<g id="g54-447"><circle class="o" cx="745.7" cy="889" r="8.2"/><text x="745.7" y="889">447</text></g>
</g>
</g>

<g id="g55" clip-path="url(#c4)">
<g class="ed" id="g55-edges">
<path d="M928.3 749L920 777.3"/><path d="M920 777.3L869.3 787.7"/><path d="M920 777.3L956 804"/><path d="M869.3 787.7L838.3 814"/><path d="M956 804L969.3 839"/><path d="M838.3 814L839 846"/><path d="M839 846L873.3 873.3"/><path d="M873.3 873.3L906 868.3"/><path d="M906 868.3L943.3 855"/><path d="M943.3 855L969.3 839"/><path d="M969.3 839L965 873.3"/><path d="M873.3 873.3L920 888.3"/><path d="M920 888.3L965 873.3"/>
</g>
<g class="nd">
<g id="g55-271"><circle class="o" cx="928.3" cy="749" r="8.2"/><text x="928.3" y="749">271</text></g>
<g id="g55-135"><circle class="o" cx="920" cy="777.3" r="8.2"/><text x="920" y="777.3">135</text></g>
<g id="g55-67"><circle class="o" cx="869.3" cy="787.7" r="8.2"/><text x="869.3" y="787.7">67</text></g>
<g id="g55-272"><circle class="o" cx="956" cy="804" r="8.2"/><text x="956" y="804">272</text></g>
<g id="g55-136"><circle class="o" cx="838.3" cy="814" r="8.2"/><text x="838.3" y="814">136</text></g>
<g id="g55-715"><circle class="o" cx="969.3" cy="839" r="8.2"/><text x="969.3" y="839">715</text></g>
<g id="g55-274"><circle class="o" cx="839" cy="846" r="8.2"/><text x="839" y="846">274</text></g>
<g id="g55-716"><circle class="o" cx="943.3" cy="855" r="8.2"/><text x="943.3" y="855">716</text></g>
<g id="g55-717"><circle class="o" cx="906" cy="868.3" r="8.2"/><text x="906" y="868.3">717</text></g>
<g id="g55-720"><circle class="b" cx="965" cy="873.3" r="8.2"/><text x="965" y="873.3">720</text></g>
<g id="g55-718"><circle class="o" cx="873.3" cy="873.3" r="8.2"/><text x="873.3" y="873.3">718</text></g>
<g id="g55-719"><circle class="o" cx="920" cy="888.3" r="8.2"/><text x="920" y="888.3">719</text></g>
</g>
</g>
</svg>
